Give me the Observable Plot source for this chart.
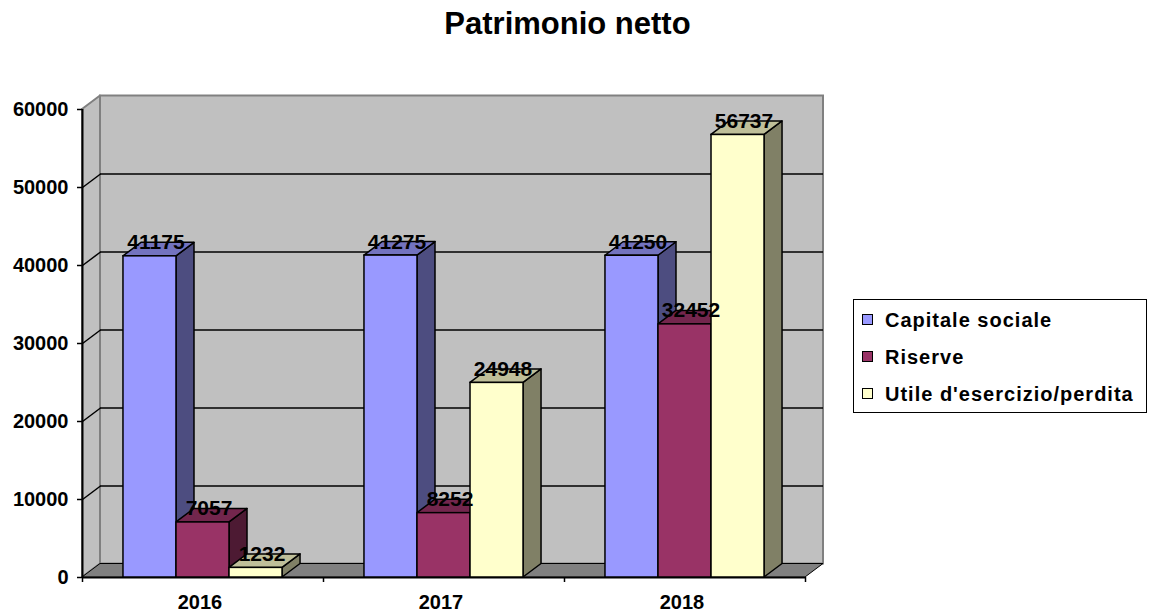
<!DOCTYPE html>
<html>
<head>
<meta charset="utf-8">
<script src="https://cdn.jsdelivr.net/npm/d3@7"></script>
<script src="https://cdn.jsdelivr.net/npm/@observablehq/plot@0.6"></script>
<style>
  html, body { margin: 0; padding: 0; background: #fff; }
  #wrap { position: relative; width: 1149px; height: 614px; overflow: hidden; font-family: "Liberation Sans", Arial, sans-serif; font-weight: bold; color: #000; }
  #chart { position: absolute; left: 0; top: 0; }
  #title { position: absolute; left: 0; width: 1135px; top: 8px; text-align: center; font-size: 31px; line-height: 31px; }
  #legend { position: absolute; left: 853px; top: 299px; width: 294px; height: 114px; border: 1px solid #000; box-sizing: border-box; }
  .item { position: absolute; left: 31px; font-size: 20px; line-height: 20px; letter-spacing: 1px; white-space: nowrap; }
  .sw { position: absolute; left: 8px; width: 11px; height: 11px; border: 1px solid #000; box-sizing: border-box; }
</style>
</head>
<body>
<div id="wrap">
  <div id="chart"></div>
  <div id="title">Patrimonio netto</div>
  <div id="legend"></div>
</div>
<script>
// ---- data ----
const categories = ["2016", "2017", "2018"];
const seriesNames = ["Capitale sociale", "Riserve", "Utile d'esercizio/perdita"];
const capitaleSociale = [41175, 41275, 41250];
const riserve = [7057, 8252, 32452];
const utile = [1232, 24948, 56737];
const yTicks = [0, 10000, 20000, 30000, 40000, 50000, 60000];

// ---- style ----
const frontColors = ["#9999FF", "#993366", "#FFFFCC"];
const topColors = ["#7373BF", "#73264D", "#BFBF99"];
const sideColors = ["#4D4D80", "#4D1A33", "#808066"];
const values = [capitaleSociale, riserve, utile];
const YMAX = 60000;
const N = categories.length;
const DX = 0.0747;   // depth, in category units
const DY = 1730;     // depth, in value units
const PAD = 0.17;
const W = (1 - 2 * PAD) / 3;

const bars = [];
values.forEach((vals, j) => vals.forEach((v, i) => {
  const xl = i + PAD + j * W;
  bars.push({id: i + "-" + j, xl, xr: xl + W, v, front: frontColors[j], top: topColors[j], side: sideColors[j]});
}));
const sideData = bars.flatMap(b => [
  {id: b.id, x: b.xr, y1: 0, y2: b.v, fill: b.side},
  {id: b.id, x: b.xr + DX, y1: DY, y2: b.v + DY, fill: b.side}
]);
const topData = bars.flatMap(b => [
  {id: b.id, y: b.v, x1: b.xl, x2: b.xr, fill: b.top},
  {id: b.id, y: b.v + DY, x1: b.xl + DX, x2: b.xr + DX, fill: b.top}
]);
const leftWall = [{x: 0, y1: 0, y2: YMAX}, {x: DX, y1: DY, y2: YMAX + DY}];
const floor = [{y: 0, x1: 0, x2: N}, {y: DY, x1: DX, x2: N + DX}];
const gridTicks = yTicks.filter(t => t > 0 && t < YMAX);

const plot = Plot.plot({
  width: 1149,
  height: 614,
  marginLeft: 82,
  marginRight: 344,
  marginTop: 109,
  marginBottom: 37,
  style: "font-family: 'Liberation Sans', Arial, sans-serif; font-weight: bold; font-size: 20px; background: transparent; color: #000;",
  x: {type: "linear", domain: [0, N], axis: null},
  y: {type: "linear", domain: [0, YMAX], axis: null},
  color: {type: "identity"},
  marks: [
    // walls & floor
    Plot.rect([0], {x1: DX, x2: N + DX, y1: DY, y2: YMAX + DY, fill: "#C0C0C0", stroke: "#808080", strokeWidth: 2}),
    Plot.area(leftWall, {x1: "x", y1: "y1", y2: "y2", fill: "#C0C0C0", stroke: "#808080", strokeWidth: 2}),
    Plot.area(floor, {y1: "y", x1: "x1", x2: "x2", fill: "#808080", stroke: "#000", strokeWidth: 1}),
    // gridlines
    Plot.ruleY(gridTicks, {y: d => d + DY, x1: DX, x2: N + DX, stroke: "#000", strokeWidth: 1.5}),
    Plot.link(gridTicks, {x1: 0, y1: d => d, x2: DX, y2: d => d + DY, stroke: "#000", strokeWidth: 1.5}),
    // axes lines
    Plot.ruleX([0], {y1: 0, y2: YMAX, stroke: "#000", strokeWidth: 2}),
    Plot.ruleY([0], {x1: 0, x2: N, stroke: "#000", strokeWidth: 2}),
    Plot.axisY({ticks: yTicks, tickSize: 5, tickPadding: 9, tickFormat: d3.format("d"), fontSize: 20, fontWeight: "bold", strokeWidth: 1.5, label: null}),
    Plot.axisX({ticks: d3.range(N + 1), tickSize: 5, tickFormat: () => "", strokeWidth: 1.5, label: null}),
    Plot.axisX({ticks: categories.map((c, i) => i + 0.5), tickSize: 0, tickPadding: 17, dx: -3, tickFormat: d => categories[Math.round(d - 0.5)], fontSize: 20, fontWeight: "bold", label: null}),
    // bars
    Plot.area(sideData, {x1: "x", y1: "y1", y2: "y2", z: "id", fill: "fill", stroke: "#000", strokeWidth: 1.5}),
    Plot.area(topData, {y1: "y", x1: "x1", x2: "x2", z: "id", fill: "fill", stroke: "#000", strokeWidth: 1.5}),
    Plot.rect(bars, {x1: "xl", x2: "xr", y1: 0, y2: "v", fill: "front", stroke: "#000", strokeWidth: 1.5}),
    // value labels
    Plot.text(bars, {x: d => d.xl + W / 2, y: "v", text: d => String(d.v), dx: 6, dy: -7, lineAnchor: "bottom", fontSize: 21, fontWeight: "bold", fill: "#000"})
  ]
});
document.getElementById("chart").appendChild(plot);

// legend
const legend = document.getElementById("legend");
seriesNames.forEach((name, j) => {
  const baseline = 27 + j * 37;
  const sw = document.createElement("div");
  sw.className = "sw";
  sw.style.top = (baseline - 13) + "px";
  sw.style.background = frontColors[j];
  legend.appendChild(sw);
  const it = document.createElement("div");
  it.className = "item";
  it.style.top = (baseline - 17) + "px";
  it.textContent = name;
  legend.appendChild(it);
});
</script>
</body>
</html>
